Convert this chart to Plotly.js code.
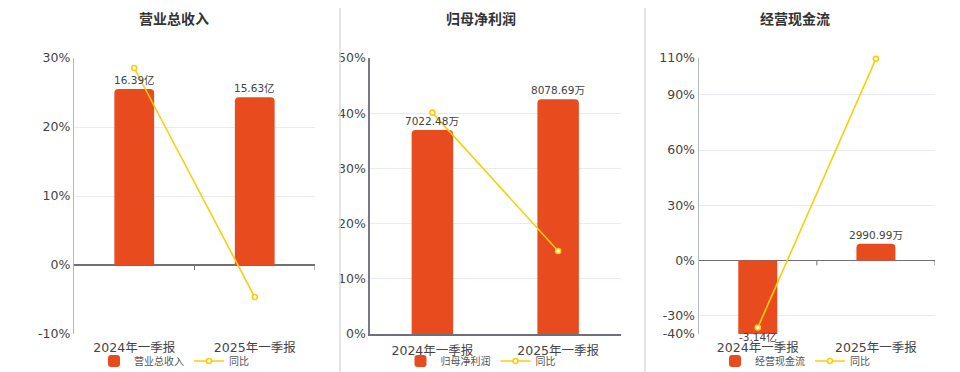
<!DOCTYPE html>
<html>
<head>
<meta charset="utf-8">
<script src="https://cdn.plot.ly/plotly-3.0.1.min.js"></script>
<style>html,body{margin:0;padding:0;background:#fff;}#chart{width:960px;height:372px;}</style>
</head>
<body>
<div id="chart"></div>
<script>
// ---- data (bar values in 万元, yoy in %) ----
const categories = ['2024年一季报', '2025年一季报'];
const titles = ['营业总收入', '归母净利润', '经营现金流'];
const revenue = [163900, 156300];
const revenueYoY = [28.55, -4.64];
const profit = [7022.48, 8078.69];
const profitYoY = [40.1, 15.04];
const cashflow = [-31400, 2990.99];
const cashflowYoY = [-36.5, 109.53];
const yoyName = '同比';

// ---- styling / layout ----
const W = 960, H = 372;
const BAR = '#E84C1E', LINE = '#F8CF0C', GRID = '#E8EBF2', ZERO = '#6E7079';
const FONT = 'DejaVu Sans, Noto Sans CJK SC, sans-serif';
const plotTop = 58, plotBottom = 334;
const yDom = [(H - plotBottom) / H, (H - plotTop) / H];

const panels = [
  {title: titles[0], bars: revenue, yoy: revenueYoY, range: [-10, 30], ticks: [-10, 0, 10, 20, 30],
   scale: 6427, px: [74, 315], center: 174, axisColor: '#B4B8C4', bottomLine: false},
  {title: titles[1], bars: profit, yoy: profitYoY, range: [0, 50], ticks: [0, 10, 20, 30, 40, 50],
   scale: 190, px: [369.5, 621], center: 480.5, axisColor: '#777A82', bottomLine: true},
  {title: titles[2], bars: cashflow, yoy: cashflowYoY, range: [-40, 110], ticks: [-40, -30, 0, 30, 60, 90, 110],
   scale: 332.3, px: [698.7, 935], center: 795, axisColor: '#B4B8C4', bottomLine: false}
];

function fmt(v) {
  return Math.abs(v) >= 10000 ? (v / 10000).toFixed(2) + '亿' : v.toFixed(2) + '万';
}

const data = [];
const layout = {
  width: W, height: H,
  margin: {l: 0, r: 0, t: 0, b: 0, autoexpand: false},
  paper_bgcolor: '#fff', plot_bgcolor: 'rgba(0,0,0,0)',
  font: {family: FONT, color: '#444', size: 12},
  showlegend: true,
  annotations: [], shapes: []
};

panels.forEach((p, i) => {
  const xId = i === 0 ? 'x' : 'x' + (i + 1);
  const xKey = i === 0 ? 'xaxis' : 'xaxis' + (i + 1);
  const barY = i === 0 ? 'y' : 'y' + (2 * i + 1);
  const barKey = i === 0 ? 'yaxis' : 'yaxis' + (2 * i + 1);
  const pctY = 'y' + (2 * i + 2);
  const pctKey = 'yaxis' + (2 * i + 2);
  const legId = i === 0 ? 'legend' : 'legend' + (i + 1);

  data.push({
    type: 'bar', x: categories, y: p.bars, name: p.title, xaxis: xId, yaxis: barY,
    width: 0.33, marker: {color: BAR, cornerradius: 4}, legend: legId, hoverinfo: 'skip'
  });
  data.push({
    type: 'scatter', mode: 'lines+markers', x: categories, y: p.yoy, name: yoyName,
    xaxis: xId, yaxis: pctY, legend: legId, hoverinfo: 'skip', cliponaxis: false,
    line: {color: LINE, width: 1.6},
    marker: {size: 5, color: '#fff', line: {color: LINE, width: 1.6}}
  });

  layout[xKey] = {
    domain: [p.px[0] / W, p.px[1] / W], anchor: barY, type: 'category', range: [-0.5, 1.5],
    showgrid: false, zeroline: false, showline: p.bottomLine, linecolor: ZERO, linewidth: 1.5,
    ticks: '', ticklabelstandoff: 4, tickfont: {size: 12.5, color: '#444'}, fixedrange: true
  };
  layout[barKey] = {
    domain: yDom, anchor: xId, range: [p.range[0] * p.scale, p.range[1] * p.scale],
    visible: false, fixedrange: true
  };
  layout[pctKey] = {
    overlaying: barY, side: 'left', anchor: xId, range: p.range,
    tickmode: 'array', tickvals: p.ticks, ticktext: p.ticks.map(t => t + '%'),
    showgrid: true, gridcolor: GRID, gridwidth: 1,
    zeroline: !p.bottomLine, zerolinecolor: ZERO, zerolinewidth: 1.5,
    showline: true, linecolor: p.axisColor, linewidth: 1.2,
    ticks: '', tickfont: {size: 12.5, color: '#444'}, fixedrange: true
  };

  layout[legId] = {
    orientation: 'h', x: p.center / W, xanchor: 'center', y: (H - 361) / H, yanchor: 'middle',
    font: {size: 10, color: '#555'}, bgcolor: 'rgba(0,0,0,0)', itemwidth: 30, tracegroupgap: 0
  };

  layout.annotations.push({
    text: '<b>' + p.title + '</b>', xref: 'paper', yref: 'paper',
    x: p.center / W, y: (H - 19) / H, xanchor: 'center', yanchor: 'middle',
    showarrow: false, font: {size: 14, color: '#333'}
  });

  p.bars.forEach((v, j) => {
    const minBar = p.range[0] * p.scale;
    const neg = v < 0;
    layout.annotations.push({
      text: fmt(v), xref: xId, yref: barY, x: categories[j], y: Math.max(v, minBar),
      xanchor: 'center', yanchor: neg ? 'top' : 'bottom', yshift: neg ? 5 : 1,
      showarrow: false, font: {size: 10.5, color: '#444'}
    });
  });

  // small tick marks on the category axis line
  [0.5, 1.5].forEach(b => {
    layout.shapes.push({
      type: 'line', xref: xId, yref: pctY, x0: b, x1: b,
      ysizemode: 'pixel', yanchor: 0, y0: 0, y1: -5,
      line: {color: ZERO, width: 1}
    });
  });
});

// panel separators
[340, 645].forEach(xp => {
  layout.shapes.push({
    type: 'line', xref: 'paper', yref: 'paper', x0: xp / W, x1: xp / W,
    y0: 0, y1: (H - 8) / H, line: {color: '#DDDDDD', width: 1.5}
  });
});

Plotly.newPlot('chart', data, layout, {displayModeBar: false, staticPlot: true});
</script>
</body>
</html>
